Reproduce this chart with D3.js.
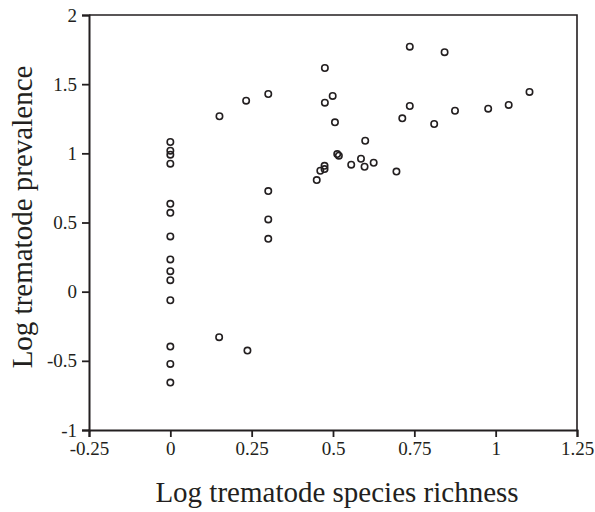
<!DOCTYPE html>
<html>
<head>
<meta charset="utf-8">
<script src="https://d3js.org/d3.v7.min.js"></script>
<style>
  body { margin: 0; background: #fff; }
  svg text { font-family: "Liberation Serif", "Times New Roman", serif; fill: #231f20; }
  .dot { fill: none; stroke: #231f20; stroke-width: 1.6px; }
</style>
</head>
<body>
<div id="chart"></div>
<script>
  // log species richness (x) and log prevalence (y)
  var richness = [
    0, 0, 0, 0, 0, 0, 0, 0, 0, 0, 0, 0, 0, 0,
    0.151, 0.233, 0.301, 0.150, 0.237,
    0.301, 0.301, 0.301,
    0.475, 0.499, 0.475, 0.506, 0.599, 0.513, 0.518, 0.586, 0.556, 0.597, 0.625,
    0.695, 0.474, 0.461, 0.474, 0.450,
    0.736, 0.843, 1.104, 1.040, 0.977, 0.875, 0.736, 0.713, 0.811
  ];
  var prevalence = [
    1.082, 1.019, 0.990, 0.925, 0.635, 0.570, 0.399, 0.233, 0.148, 0.083, -0.062, -0.397, -0.522, -0.657,
    1.268, 1.381, 1.429, -0.329, -0.426,
    0.727, 0.522, 0.382,
    1.617, 1.415, 1.366, 1.224, 1.091, 0.995, 0.983, 0.961, 0.918, 0.903, 0.932,
    0.868, 0.910, 0.874, 0.886, 0.807,
    1.771, 1.731, 1.444, 1.350, 1.323, 1.308, 1.342, 1.253, 1.212
  ];
  var xTicks = [-0.25, 0, 0.25, 0.5, 0.75, 1, 1.25];
  var yTicks = [-1, -0.5, 0, 0.5, 1, 1.5, 2];

  var width = 595, height = 512;
  var margin = {top: 15, right: 18, bottom: 82, left: 89};

  var svg = d3.select("#chart").append("svg")
      .attr("width", width)
      .attr("height", height);

  var x = d3.scaleLinear().domain([-0.25, 1.25]).range([margin.left, width - margin.right]);
  var y = d3.scaleLinear().domain([-1, 2]).range([height - margin.bottom, margin.top]);

  // frame (top and right)
  svg.append("path")
      .attr("d", "M" + x(-0.25) + "," + y(2) + "H" + x(1.25) + "V" + y(-1))
      .attr("fill", "none")
      .attr("stroke", "#231f20")
      .attr("stroke-width", 1.6);

  var fmt = function(d) { return String(d); };

  var xAxis = svg.append("g")
      .attr("transform", "translate(0," + y(-1) + ")")
      .call(d3.axisBottom(x).tickValues(xTicks).tickFormat(fmt).tickSize(7).tickPadding(5));

  var yAxis = svg.append("g")
      .attr("transform", "translate(" + x(-0.25) + ",0)")
      .call(d3.axisLeft(y).tickValues(yTicks).tickFormat(fmt).tickSize(7).tickPadding(5));

  [xAxis, yAxis].forEach(function(g) {
    g.attr("font-size", null).attr("font-family", null);
    g.select(".domain").attr("stroke", "#231f20").attr("stroke-width", 2);
    g.selectAll(".tick line").attr("stroke", "#231f20").attr("stroke-width", 1.8);
    g.selectAll(".tick text").style("font-size", "19px").attr("fill", "#231f20");
  });

  svg.append("g").selectAll("circle")
      .data(richness.map(function(d, i) { return [d, prevalence[i]]; }))
      .enter().append("circle")
        .attr("class", "dot")
        .attr("cx", function(d) { return x(d[0]); })
        .attr("cy", function(d) { return y(d[1]); })
        .attr("r", 3.2);

  svg.append("text")
      .attr("x", 337)
      .attr("y", 502)
      .attr("text-anchor", "middle")
      .style("font-size", "29px")
      .text("Log trematode species richness");

  svg.append("text")
      .attr("transform", "translate(32,217) rotate(-90)")
      .attr("text-anchor", "middle")
      .style("font-size", "29px")
      .text("Log trematode prevalence");
</script>
</body>
</html>
